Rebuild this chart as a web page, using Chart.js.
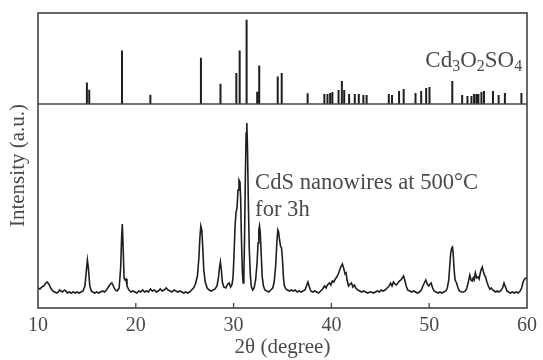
<!DOCTYPE html>
<html>
<head>
<meta charset="utf-8">
<script src="https://cdn.jsdelivr.net/npm/chart.js@4/dist/chart.umd.min.js"></script>
<style>
html,body{margin:0;padding:0;background:#fff;}
#wrap{width:543px;height:360px;position:relative;}
</style>
</head>
<body>
<div id="wrap"><canvas id="c" width="543" height="360"></canvas></div>
<script>
// Measured XRD pattern (2θ in degrees, intensity in arbitrary units)
const twoTheta = [10.0,10.2,10.4,10.6,10.8,10.95,11.1,11.3,11.5,11.7,11.9,12.1,12.2,12.35,12.5,12.7,12.85,13.0,13.2,13.4,13.6,13.8,14.0,14.2,14.4,14.6,14.8,14.95,15.05,15.15,15.3,15.45,15.6,15.8,16.0,16.2,16.4,16.6,16.8,17.0,17.2,17.4,17.55,17.7,17.9,18.1,18.3,18.45,18.55,18.62,18.7,18.8,18.9,19.0,19.1,19.3,19.5,19.7,19.9,20.1,20.3,20.5,20.7,20.9,21.1,21.3,21.5,21.7,21.9,22.1,22.3,22.5,22.7,22.9,23.1,23.3,23.5,23.7,23.9,24.1,24.3,24.5,24.7,24.9,25.1,25.3,25.5,25.7,25.9,26.1,26.3,26.45,26.55,26.65,26.75,26.85,26.95,27.1,27.3,27.5,27.7,27.9,28.1,28.3,28.45,28.55,28.65,28.75,28.85,29.0,29.2,29.4,29.55,29.7,29.85,29.95,30.05,30.15,30.25,30.35,30.45,30.55,30.65,30.72,30.8,30.9,30.98,31.05,31.12,31.2,31.28,31.35,31.42,31.5,31.6,31.7,31.8,31.95,32.1,32.25,32.4,32.5,32.58,32.65,32.72,32.82,32.92,33.05,33.2,33.4,33.6,33.8,34.0,34.15,34.3,34.42,34.52,34.6,34.7,34.8,34.9,35.0,35.1,35.2,35.35,35.5,35.7,35.9,36.1,36.3,36.5,36.7,36.9,37.1,37.3,37.45,37.6,37.75,37.9,38.1,38.3,38.5,38.7,38.9,39.1,39.3,39.45,39.6,39.8,39.95,40.1,40.25,40.4,40.55,40.7,40.85,41.0,41.12,41.25,41.4,41.5,41.6,41.75,41.9,42.05,42.2,42.35,42.5,42.7,42.9,43.1,43.3,43.5,43.7,43.9,44.1,44.3,44.5,44.7,44.9,45.1,45.3,45.5,45.7,45.9,46.05,46.2,46.35,46.5,46.65,46.8,46.95,47.1,47.25,47.38,47.5,47.65,47.8,48.0,48.2,48.4,48.6,48.8,49.0,49.2,49.35,49.5,49.65,49.8,49.95,50.1,50.2,50.35,50.5,50.7,50.9,51.1,51.3,51.5,51.7,51.85,52.0,52.1,52.2,52.3,52.38,52.45,52.55,52.65,52.8,52.95,53.1,53.3,53.5,53.7,53.85,54.0,54.15,54.28,54.4,54.5,54.6,54.72,54.85,55.0,55.1,55.2,55.3,55.43,55.55,55.65,55.77,55.9,56.05,56.2,56.35,56.5,56.65,56.8,56.95,57.1,57.3,57.5,57.65,57.8,57.95,58.1,58.3,58.5,58.7,58.9,59.1,59.3,59.45,59.6,59.75,59.9,60.0];
const intensity = [20,19,21,22,25,26,24,20,17,16,15,16,18,17,16,18,17,15,16,15,16,15,16,15,16,17,22,38,48,40,22,17,16,15,16,15,16,17,16,18,21,24,25,22,18,17,20,40,70,84,62,30,28,29,22,18,16,17,16,15,17,16,18,16,17,16,19,17,18,16,17,19,17,18,20,18,17,16,18,17,16,17,16,15,16,15,16,18,20,24,32,50,70,82,78,60,38,26,20,18,17,18,19,22,30,40,46,38,26,21,20,24,25,21,24,32,55,82,96,100,118,128,126,110,70,35,25,32,70,130,175,185,160,110,60,35,22,18,20,28,45,65,78,82,76,55,32,22,18,17,16,18,20,26,42,65,78,76,68,62,60,48,30,22,19,18,17,18,17,18,16,17,16,17,18,22,26,21,17,16,17,16,15,17,19,22,20,23,25,23,27,26,29,31,34,38,42,44,40,34,35,28,22,24,25,21,23,20,18,17,16,17,16,15,16,16,15,16,17,16,18,17,18,20,22,25,22,26,24,23,25,27,28,30,32,28,22,18,17,16,17,16,15,16,18,22,25,28,24,22,24,25,20,17,16,15,16,15,16,17,20,28,42,55,60,61,55,38,28,25,20,17,16,16,17,20,26,33,28,27,30,28,35,30,31,29,34,38,41,36,33,31,26,22,19,20,18,17,16,17,16,17,20,25,21,17,16,15,16,15,16,15,17,20,26,29,30,30];

// Reference pattern of Cd3O2SO4 (stick positions and relative heights)
const stickPos = [15.0,15.24,18.59,21.49,26.66,28.66,30.28,30.62,31.33,32.41,32.62,34.51,34.92,37.57,39.28,39.6,39.87,40.1,40.73,41.07,41.31,41.81,42.39,42.8,43.27,43.6,45.87,46.2,46.92,47.39,48.6,49.18,49.69,50.03,52.36,53.37,53.91,54.32,54.59,54.83,55.03,55.34,55.6,56.52,57.1,57.74,59.43];
const stickHeight = [21.6,14.3,53.6,9.3,46.3,20.3,31,53.6,84.3,12.3,38.6,27.6,31,10.7,10,10,11,12,14,23,14,10,10,10,9,9,10,9,13,15,11,13,16,17,23,9,8,8,10,10,10,12,13,13,9,11,11];

const xTicks = [10,20,30,40,50,60];
const xLabel = '2θ (degree)';
const yLabel = 'Intensity (a.u.)';
const topLabel = ['Cd', '3', 'O', '2', 'SO', '4'];
const bottomLabel = ['CdS nanowires at 500°C', 'for 3h'];

const spectrum = twoTheta.map((t, i) => ({x: t, y: intensity[i]}));
const sticks = [];
stickPos.forEach((p, i) => {
  sticks.push({x: p, y: 0}, {x: p, y: stickHeight[i]}, {x: p, y: null});
});

const SERIF = '"Liberation Serif", "DejaVu Serif", serif';
const TXT = '#4a4a4a';
const FRAME = '#444';

const decor = {
  id: 'decor',
  afterDraw(chart) {
    const ctx = chart.ctx;
    const a = chart.chartArea;
    const xs = chart.scales.x;
    const yb = chart.scales.y;
    const yt = chart.scales.yTop;
    ctx.save();
    // frame
    ctx.strokeStyle = FRAME;
    ctx.lineWidth = 1.6;
    ctx.strokeRect(a.left, a.top, a.right - a.left, a.bottom - a.top);
    // panel separator
    const sep = yt.getPixelForValue(0);
    ctx.beginPath();
    ctx.moveTo(a.left, sep);
    ctx.lineTo(a.right, sep);
    ctx.stroke();
    // inward ticks on the bottom axis
    ctx.lineWidth = 1.3;
    xTicks.slice(1, -1).forEach(v => {
      const px = xs.getPixelForValue(v);
      ctx.beginPath();
      ctx.moveTo(px, a.bottom);
      ctx.lineTo(px, a.bottom - 5);
      ctx.stroke();
    });
    // y title
    ctx.fillStyle = TXT;
    ctx.font = '21px ' + SERIF;
    ctx.textAlign = 'center';
    ctx.textBaseline = 'middle';
    ctx.translate(18, (a.top + a.bottom) / 2 + 5);
    ctx.rotate(-Math.PI / 2);
    ctx.fillText(yLabel, 0, 0);
    ctx.restore();

    // annotations
    ctx.save();
    ctx.fillStyle = TXT;
    ctx.textBaseline = 'alphabetic';
    ctx.textAlign = 'left';
    // Cd3O2SO4 (subscripts)
    let x = xs.getPixelForValue(49.6);
    const by = yt.getPixelForValue(37.3);
    topLabel.forEach((s, i) => {
      const sub = i % 2 === 1;
      ctx.font = (sub ? '16px ' : '23px ') + SERIF;
      ctx.fillText(s, x, sub ? by + 4 : by);
      x += ctx.measureText(s).width;
    });
    // CdS label
    ctx.font = '22.6px ' + SERIF;
    const lx = xs.getPixelForValue(32.2);
    ctx.fillText(bottomLabel[0], lx, yb.getPixelForValue(119));
    ctx.fillText(bottomLabel[1], lx, yb.getPixelForValue(92));
    ctx.restore();
  }
};

new Chart(document.getElementById('c'), {
  type: 'line',
  data: {
    datasets: [
      {data: spectrum, yAxisID: 'y', borderColor: '#1e1e1e', borderWidth: 1.6, pointRadius: 0, tension: 0, fill: false},
      {data: sticks, yAxisID: 'yTop', borderColor: '#1e1e1e', borderWidth: 2, pointRadius: 0, spanGaps: false, fill: false}
    ]
  },
  options: {
    responsive: false,
    animation: false,
    events: [],
    layout: {padding: {top: 13, right: 12, left: 0, bottom: 0}},
    plugins: {legend: {display: false}, tooltip: {enabled: false}},
    scales: {
      x: {
        type: 'linear', position: 'bottom', min: 10, max: 60,
        afterBuildTicks: s => { s.ticks = xTicks.map(v => ({value: v})); },
        ticks: {font: {family: SERIF, size: 20}, color: TXT, padding: 6, maxRotation: 0},
        grid: {display: false, drawTicks: false},
        border: {display: false},
        title: {display: true, text: xLabel, font: {family: SERIF, size: 21}, color: TXT, padding: {top: 0, bottom: 0}},
        afterFit: s => { s.height = 52; }
      },
      y: {
        type: 'linear', position: 'left', stack: 'panels', stackWeight: 204, min: 0, max: 204,
        ticks: {display: false}, grid: {display: false}, border: {display: false},
        afterFit: s => { s.width = 38; }
      },
      yTop: {
        type: 'linear', position: 'left', stack: 'panels', stackWeight: 91, min: 0, max: 91,
        ticks: {display: false}, grid: {display: false}, border: {display: false},
        afterFit: s => { s.width = 38; }
      }
    }
  },
  plugins: [decor]
});
</script>
</body>
</html>
